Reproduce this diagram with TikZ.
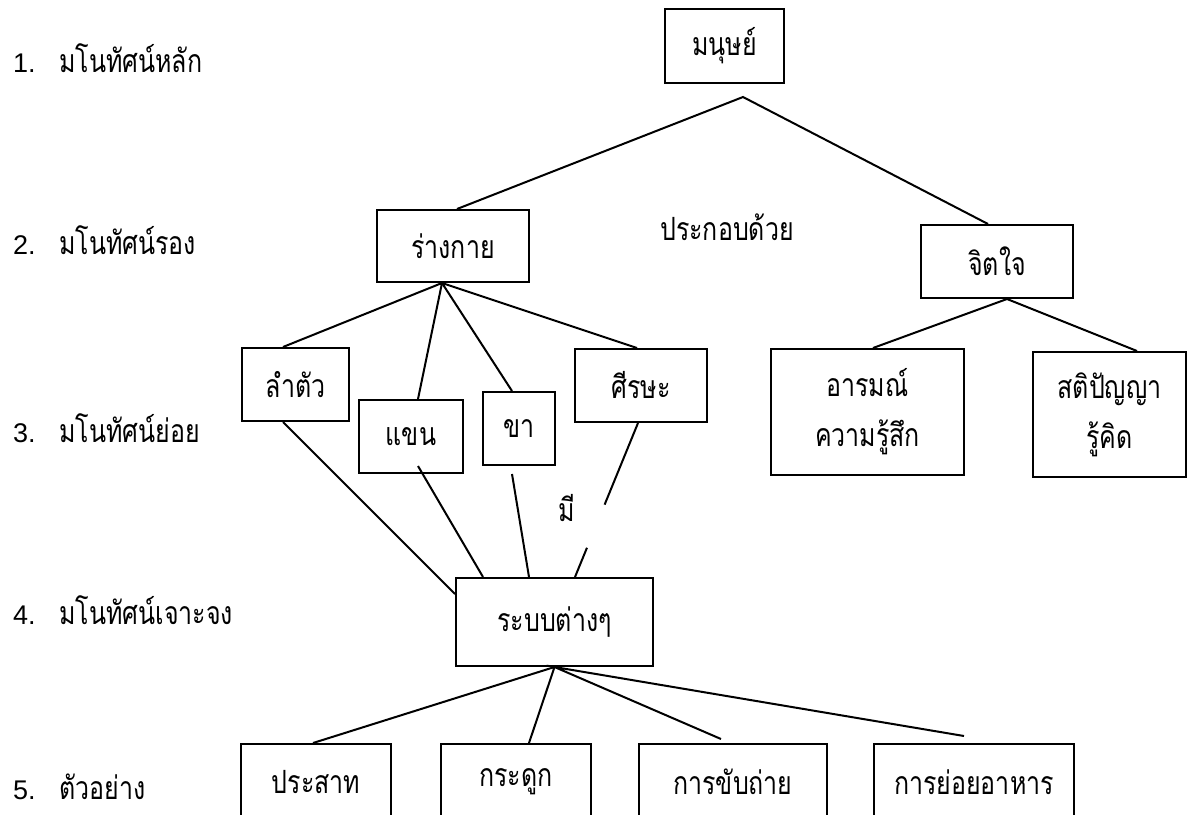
\documentclass[tikz,border=0pt]{standalone}
\usepackage{fontspec}
\newfontfamily\thaifont[Script=Thai,FakeStretch=0.78]{Loma}
\newfontfamily\numfont{Liberation Sans}
\usetikzlibrary{positioning,calc}

\begin{document}
\begin{tikzpicture}[x=1pt,y=-1pt,
box/.style={
  draw,
  line width=2pt,
  inner sep=0pt,
  align=center,
  font=\thaifont\fontsize{32}{50}\selectfont},
txt/.style={inner sep=0pt,font=\thaifont\fontsize{32}{36}\selectfont},
lvl/.style={txt,anchor=west},
link/.style={line width=2pt},
]
\useasboundingbox (0,0) rectangle (1193,814);
\clip (0,0) rectangle (1193,814);
\node[lvl] (L1) at (13,58) {\makebox[46pt][l]{\numfont\fontsize{27}{30}\selectfont 1.}มโนทัศน์หลัก};
\node[lvl] (L2) at (13,240) {\makebox[46pt][l]{\numfont\fontsize{27}{30}\selectfont 2.}มโนทัศน์รอง};
\node[lvl] (L3) at (13,428) {\makebox[46pt][l]{\numfont\fontsize{27}{30}\selectfont 3.}มโนทัศน์ย่อย};
\node[lvl] (L4) at (13,610) {\makebox[46pt][l]{\numfont\fontsize{27}{30}\selectfont 4.}มโนทัศน์เจาะจง};
\node[lvl] (L5) at (13,787) {\makebox[46pt][l]{\numfont\fontsize{27}{30}\selectfont 5.}ตัวอย่าง};
\node[box,minimum width=119pt,minimum height=74pt] (Man) at (724.5,46) {มนุษย์};
\node[box,minimum width=152pt,minimum height=72pt] (Bod) at (453,246) {ร่างกาย};
\node[box,minimum width=152pt,minimum height=73pt] (Min) at (997,261.5) {จิตใจ};
\node[box,minimum width=107pt,minimum height=73pt] (Tru) at (295.5,384.5) {ลำตัว};
\node[box,minimum width=104pt,minimum height=73pt] (Arm) at (411,436.5) {แขน};
\node[box,minimum width=72pt,minimum height=73pt] (Leg) at (519,428.5) {ขา};
\node[box,minimum width=132pt,minimum height=73pt] (Hea) at (641,385.5) {ศีรษะ};
\node[box,minimum width=193pt,minimum height=126pt] (Emo) at (867.5,412) {อารมณ์\\ความรู้สึก};
\node[box,minimum width=153pt,minimum height=125pt] (Int) at (1109.5,414.5) {สติปัญญา\\รู้คิด};
\node[box,minimum width=197pt,minimum height=88pt] (Sys) at (554.5,622) {ระบบต่างๆ};
\node[box,minimum width=150pt,minimum height=76pt] (Ner) at (316,782) {ประสาท};
\node[box,minimum width=150pt,minimum height=76pt] (Bon) at (516,782) {กระดูก};
\node[box,minimum width=188pt,minimum height=76pt] (Exc) at (733,782) {การขับถ่าย};
\node[box,minimum width=200pt,minimum height=76pt] (Dig) at (974,782) {การย่อยอาหาร};
\node[txt] (Con) at (727,227) {ประกอบด้วย};
\node[txt] (Has) at (567,508) {มี};
\coordinate (ManV) at (743,97);
\draw[link] ([xshift=4pt]Bod.north) -- (ManV) -- ([xshift=-9pt]Min.north);
\draw[link] ([xshift=-12.5pt]Tru.north) -- ([xshift=-11pt]Bod.south) -- ([xshift=7pt]Arm.north);
\draw[link] ([xshift=-7pt]Leg.north) -- ([xshift=-11pt]Bod.south) -- ([xshift=-4pt]Hea.north);
\draw[link] ([xshift=5.5pt]Emo.north) -- ([xshift=10pt]Min.south) -- ([xshift=27.5pt]Int.north);
\draw[link] ([xshift=-12.5pt]Tru.south) -- ([yshift=28pt]Sys.west);
\draw[link] ([xshift=7pt,yshift=8pt]Arm.south) -- ([xshift=-71.5pt]Sys.north);
\draw[link] ([xshift=-7pt,yshift=-8pt]Leg.south) -- ([xshift=-25.5pt]Sys.north);
\coordinate (HeaB) at ([xshift=-3pt]Hea.south);
\coordinate (SysT) at ([xshift=20.5pt]Sys.north);
\draw[link] (HeaB) -- ($(HeaB)!0.53!(SysT)$) ($(HeaB)!0.81!(SysT)$) -- (SysT);
\draw[link] ([xshift=-3pt]Ner.north) -- (Sys.south) -- ([xshift=13pt]Bon.north);
\draw[link] ([xshift=-12pt,yshift=4pt]Exc.north) -- (Sys.south) -- ([xshift=-10pt,yshift=7pt]Dig.north);
\end{tikzpicture}
\end{document}
